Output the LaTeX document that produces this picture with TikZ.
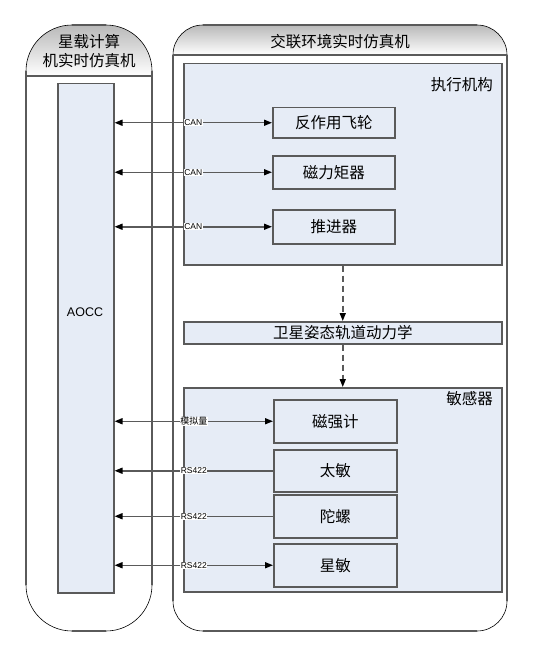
\documentclass[tikz,border=0pt]{standalone}
\usepackage{fontspec}
\setmainfont{Liberation Sans}
\newfontfamily\cjk{Noto Sans CJK SC}
\usetikzlibrary{arrows.meta}
\definecolor{boxfill}{HTML}{E6ECF6}
\definecolor{edge}{HTML}{5A5A5A}
\begin{document}
\begin{tikzpicture}[x=1pt,y=-1pt,
  box/.style={draw=edge, line width=1.5pt, fill=boxfill, anchor=north west, inner sep=0pt,
    font=\cjk\fontsize{15.5}{18}\selectfont},
  big/.style={draw=edge, line width=1.5pt, fill=boxfill, anchor=north west, inner sep=0pt},
  title/.style={font=\cjk\fontsize{15.5}{19}\selectfont, inner sep=0pt, align=center},
  lbl/.style={fill=white, inner sep=0.6pt, font=\fontsize{8.5}{9}\selectfont},
  lblc/.style={fill=white, inner sep=0.6pt, font=\cjk\fontsize{9}{10}\selectfont},
  conn/.style={draw=edge, line width=1.5pt},
  tipr/.style={-{Triangle[length=8pt,width=6pt,color=black]}},
  tipb/.style={{Triangle[length=8pt,width=6pt,color=black]}-{Triangle[length=8pt,width=6pt,color=black]}},
  dash arrow/.style={draw=edge, line width=1.5pt, dash pattern=on 6pt off 4pt,
    -{Triangle[length=8pt,width=6pt,color=black]}},
  rim/.style={black, line width=0.6pt},
  side/.style={edge, line width=1.7pt}
]
\useasboundingbox (0,0) rectangle (533,658);

% ---------- left container ----------
\begin{scope}
  \clip[rounded corners=46pt] (26,25) rectangle (152,631);
  \fill[white] (26,25) rectangle (152,631);
  \shade[top color=gray!55, bottom color=white] (26,25) rectangle (152,76);
\end{scope}
\draw[rim, rounded corners=46pt] (26,25) rectangle (152,631);
\draw[side] (26,71) -- (26,585) (152,71) -- (152,585) (72,25) -- (106,25) (72,631) -- (106,631);
\draw[side] (26,76) -- (152,76);
\node[title] (lhead) at (89,51) {星载计算\\机实时仿真机};

% ---------- right container ----------
\begin{scope}
  \clip[rounded corners=30pt] (173,25) rectangle (507,631);
  \fill[white] (173,25) rectangle (507,631);
  \shade[top color=gray!55, bottom color=white] (173,25) rectangle (507,55);
\end{scope}
\draw[rim, rounded corners=30pt] (173,25) rectangle (507,631);
\draw[side] (173,55) -- (173,601) (507,55) -- (507,601) (203,25) -- (477,25) (203,631) -- (477,631);
\draw[side] (173,55) -- (507,55);
\node[title] (rhead) at (340,42) {交联环境实时仿真机};

% ---------- AOCC ----------
\node[big, minimum width=56pt, minimum height=509pt] (aocc) at (57,83) {};
\node[font=\fontsize{12.5}{14}\selectfont, inner sep=0pt] (aocclbl) at (85,312) {AOCC};

% ---------- group boxes ----------
\node[big, minimum width=318pt, minimum height=201pt] (act) at (183,63) {};
\node[title, anchor=east] (acttitle) at (493,85) {执行机构};
\node[box, minimum width=318pt, minimum height=22pt] (dyn) at (183,321) {卫星姿态轨道动力学};
\node[big, minimum width=318pt, minimum height=204pt] (sen) at (183,387) {};
\node[title, anchor=east] (sentitle) at (493,399) {敏感器};

% ---------- actuators ----------
\node[box, minimum width=122pt, minimum height=30pt] (rw) at (272,107) {反作用飞轮};
\node[box, minimum width=122pt, minimum height=33pt] (mt) at (272,155) {磁力矩器};
\node[box, minimum width=122pt, minimum height=34pt] (th) at (272,209) {推进器};

% ---------- sensors ----------
\node[box, minimum width=123pt, minimum height=43pt] (mag) at (273,399) {磁强计};
\node[box, minimum width=123pt, minimum height=42pt] (sun) at (273,449) {太敏};
\node[box, minimum width=123pt, minimum height=43pt] (gyro) at (273,494) {陀螺};
\node[box, minimum width=123pt, minimum height=43pt] (star) at (273,543) {星敏};

% ---------- connectors ----------
\draw[conn, tipb] (rw.west -| aocc.east) -- node[lbl] {CAN} (rw.west);
\draw[conn, tipb] (mt.west -| aocc.east) -- node[lbl] {CAN} (mt.west);
\draw[conn, tipb] (th.west -| aocc.east) -- node[lbl] {CAN} (th.west);
\draw[conn, tipb] (mag.west -| aocc.east) -- node[lblc] {模拟量} (mag.west);
\draw[conn, tipr] (sun.west) -- node[lbl] {RS422} (sun.west -| aocc.east);
\draw[conn, tipr] (gyro.west) -- node[lbl] {RS422} (gyro.west -| aocc.east);
\draw[conn, tipb] (star.west -| aocc.east) -- node[lbl] {RS422} (star.west);

\draw[dash arrow] (act.south) -- (dyn.north);
\draw[dash arrow] (dyn.south) -- (sen.north);
\end{tikzpicture}
\end{document}
